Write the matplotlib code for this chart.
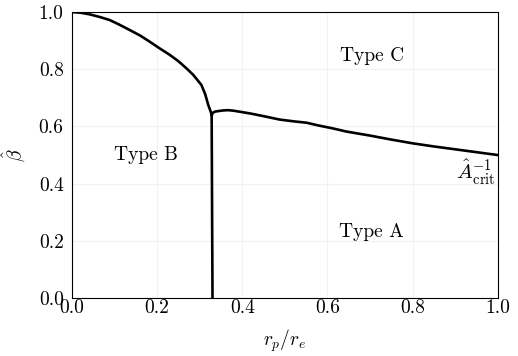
import numpy as np
from matplotlib import pyplot as plt

plt.rcParams['font.family'] = 'serif'
plt.rcParams['font.serif'] = ['cmr10']
plt.rcParams['mathtext.fontset'] = 'cm'
plt.rcParams['axes.formatter.use_mathtext'] = True

# upper-left boundary (Type B / Type C)
x_left = [0.0, 0.02, 0.042, 0.065, 0.089, 0.11, 0.136, 0.16, 0.183, 0.205, 0.230,
          0.25, 0.269, 0.285, 0.304, 0.313, 0.320, 0.325, 0.328]
b_left = [1.0, 0.998, 0.992, 0.983, 0.972, 0.957, 0.937, 0.918, 0.896, 0.874, 0.850,
          0.828, 0.803, 0.780, 0.745, 0.712, 0.675, 0.655, 0.640]

# vertical boundary (Type B / Type A)
x_vert = [0.328, 0.329, 0.330]
b_vert = [0.64, 0.3, 0.0]

# critical curve A_crit^-1 (Type A / Type C)
x_crit = [0.328, 0.331, 0.336, 0.345, 0.355, 0.367, 0.38, 0.40, 0.42, 0.45, 0.488,
          0.52, 0.551, 0.58, 0.61, 0.645, 0.7, 0.75, 0.8, 0.85, 0.9, 0.95, 1.0]
b_crit = [0.640, 0.648, 0.652, 0.654, 0.656, 0.657, 0.655, 0.650, 0.645, 0.636, 0.624,
          0.618, 0.613, 0.603, 0.594, 0.582, 0.568, 0.554, 0.541, 0.530, 0.520, 0.510, 0.500]

fig = plt.figure(figsize=(5.18, 3.56), dpi=100)
ax = fig.add_axes([0.139, 0.163, 0.822, 0.803])

ax.plot(x_left, b_left, color='black', linewidth=1.9, solid_joinstyle='round')
ax.plot(x_vert, b_vert, color='black', linewidth=1.9)
ax.plot(x_crit, b_crit, color='black', linewidth=1.9, solid_joinstyle='round')

fs = 14
ax.text(0.704, 0.848, 'Type C', ha='center', va='center', fontsize=fs)
ax.text(0.174, 0.50, 'Type B', ha='center', va='center', fontsize=fs)
ax.text(0.702, 0.231, 'Type A', ha='center', va='center', fontsize=fs)
ax.text(0.995, 0.44, r'$\hat{A}_{\mathrm{crit}}^{-1}$', ha='right', va='center', fontsize=fs + 1)

ax.set_xlim(0, 1)
ax.set_ylim(0, 1)
ax.set_xticks(np.arange(0, 1.01, 0.2))
ax.set_yticks(np.arange(0, 1.01, 0.2))
ax.set_xticklabels(['0.0', '0.2', '0.4', '0.6', '0.8', '1.0'])
ax.set_yticklabels(['0.0', '0.2', '0.4', '0.6', '0.8', '1.0'])
ax.tick_params(axis='x', length=0, pad=1, labelsize=fs)
ax.tick_params(axis='y', length=0, pad=6, labelsize=fs)
ax.grid(True, color='#f2f2f2', linewidth=0.8)
ax.set_axisbelow(True)
for s in ax.spines.values():
    s.set_linewidth(0.8)

ax.set_xlabel(r'$r_p/r_e$', fontsize=fs, labelpad=7)
ax.set_ylabel(r'$\hat{\beta}$', fontsize=fs, labelpad=8)

fig.savefig('out.png', dpi=100)
